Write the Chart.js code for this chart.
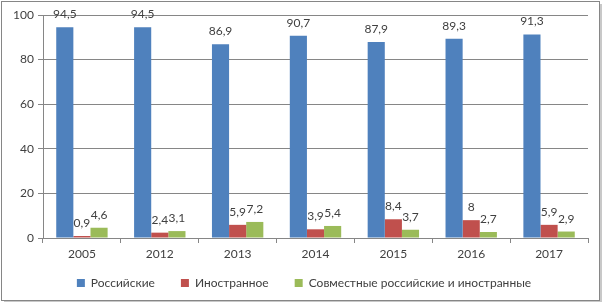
<!DOCTYPE html>
<html>
<head>
<meta charset="utf-8">
<script src="https://cdn.jsdelivr.net/npm/chart.js@4"></script>
<style>
  body { margin: 0; background: #fff; }
  #wrap { position: relative; width: 604px; height: 304px; }
</style>
</head>
<body>
<div id="wrap"><canvas id="chart" width="604" height="304"></canvas></div>
<script>
const years = ["2005", "2012", "2013", "2014", "2015", "2016", "2017"];
const russian = [94.5, 94.5, 86.9, 90.7, 87.9, 89.3, 91.3];
const foreign = [0.9, 2.4, 5.9, 3.9, 8.4, 8, 5.9];
const joint = [4.6, 3.1, 7.2, 5.4, 3.7, 2.7, 2.9];
const seriesNames = ["Российские", "Иностранное", "Совместные российские и иностранные"];
const yTicks = [0, 20, 40, 60, 80, 100];

const FONT = "Lato, 'Open Sans', sans-serif";

// frame with shadow around the whole chart
const framePlugin = {
  id: "frame",
  beforeDraw(chart) {
    const ctx = chart.ctx;
    ctx.save();
    ctx.fillStyle = "#fff";
    ctx.fillRect(0, 0, chart.width, chart.height);
    ctx.fillStyle = "#c8c8c8";
    ctx.fillRect(4, 4, 598, 298);
    ctx.fillStyle = "#fff";
    ctx.fillRect(1, 1, 599, 300);
    ctx.strokeStyle = "#868686";
    ctx.lineWidth = 1;
    ctx.strokeRect(1.5, 1.5, 598, 299);
    ctx.restore();
  },
  // centre the legend on the whole canvas, not just the padded area
  afterLayout(chart) {
    if (chart.legend) chart.legend.right += 20;
  }
};

// value labels above bars, comma decimal
const labelPlugin = {
  id: "valueLabels",
  afterDatasetsDraw(chart) {
    const ctx = chart.ctx;
    ctx.save();
    ctx.font = "12px " + FONT;
    ctx.fillStyle = "#404040";
    ctx.textAlign = "center";
    ctx.textBaseline = "alphabetic";
    chart.data.datasets.forEach((ds, i) => {
      chart.getDatasetMeta(i).data.forEach((bar, j) => {
        const txt = String(ds.data[j]).replace(".", ",");
        ctx.fillText(txt, bar.x, bar.y - 9);
      });
    });
    ctx.restore();
  }
};

new Chart(document.getElementById("chart"), {
  type: "bar",
  data: {
    labels: years,
    datasets: [
      { label: seriesNames[0], data: russian, backgroundColor: "#4f81bd" },
      { label: seriesNames[1], data: foreign, backgroundColor: "#c0504d" },
      { label: seriesNames[2], data: joint, backgroundColor: "#9bbb59" }
    ]
  },
  options: {
    responsive: false,
    animation: false,
    layout: { padding: { left: 0, right: 16, top: 15, bottom: 5 } },
    datasets: { bar: { categoryPercentage: 0.66, barPercentage: 1 } },
    plugins: {
      legend: {
        position: "bottom",
        labels: {
          boxWidth: 8,
          boxHeight: 8,
          padding: 26,
          color: "#404040",
          font: { family: FONT, size: 12 }
        }
      },
      tooltip: { enabled: false }
    },
    scales: {
      x: {
        grid: { display: true, drawOnChartArea: false, tickLength: 5, color: "#868686", offset: true },
        border: { color: "#868686" },
        ticks: { color: "#404040", font: { family: FONT, size: 12 }, padding: 4 },
        afterFit(scale) {
          scale.height = 13;
          // labels sit below the short axis box, so don't clip them to it
          scale._computeLabelArea = () => undefined;
        }
      },
      y: {
        min: 0,
        max: 100,
        afterBuildTicks(scale) { scale.ticks = yTicks.map(v => ({ value: v })); },
        grid: { color: "#868686", tickLength: 5 },
        border: { color: "#868686" },
        ticks: { color: "#404040", font: { family: FONT, size: 12 }, padding: 4 },
        afterFit(scale) { scale.width = 43; }
      }
    }
  },
  plugins: [framePlugin, labelPlugin]
});
</script>
</body>
</html>
